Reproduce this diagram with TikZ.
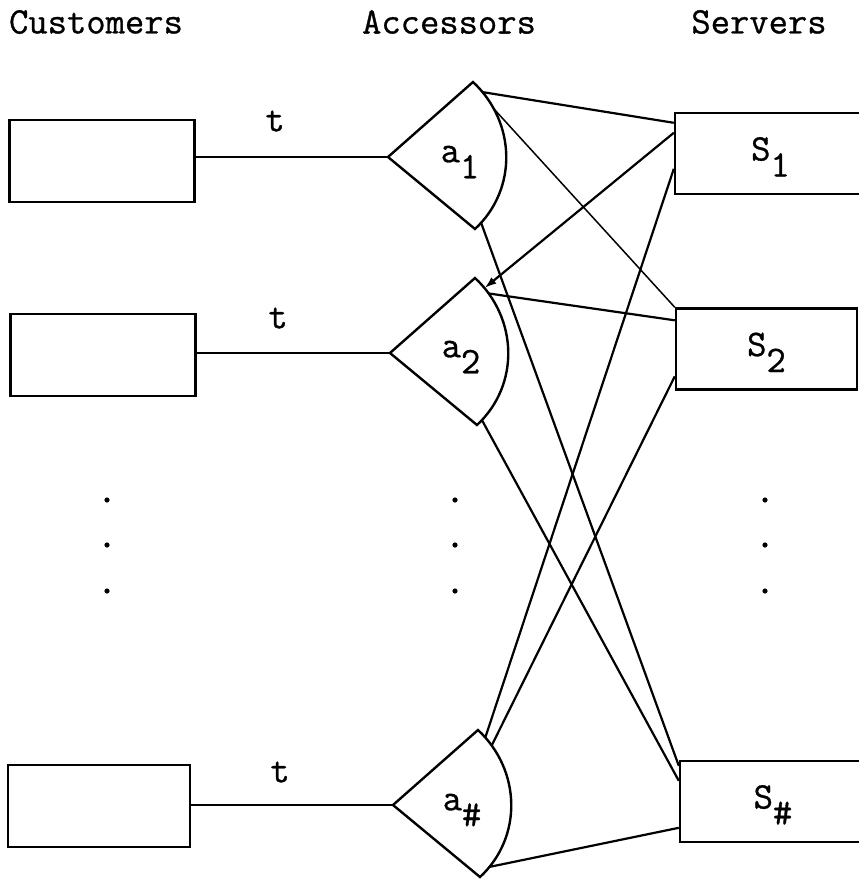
\documentclass[tikz,border=0pt]{standalone}
\usepackage{fontspec}
\usepackage{tikz}
\usetikzlibrary{arrows.meta,positioning}

% typewriter face, struck a little heavier
\newfontfamily\typer{Latin Modern Mono}[FakeBold=0.8]
% typed subscript: same size, dropped half a line
\newcommand{\lowsub}[1]{\raisebox{-16pt}{#1}}

\begin{document}
\begin{tikzpicture}[x=1pt,y=-1pt,
  font=\fontsize{37.5}{40}\typer,
  cust/.style={draw,line width=2.4pt,minimum width=185pt,minimum height=82pt,inner sep=0pt},
  serv/.style={draw,line width=2.4pt,minimum height=81pt,inner sep=0pt,text height=30pt,text depth=16pt},
  acc/.style={line width=2.4pt,line join=miter},
  feed/.style={line width=2.2pt},
  link/.style={line width=2.2pt},
  fine/.style={line width=1.5pt}
]
  \useasboundingbox (0,0) rectangle (859,879);

  \node (hcust) at (96,22)  {Customers};
  \node (hacc)  at (449,22) {Accessors};
  \node (hserv) at (759,22) {Servers};

  % customers
  \node[cust] (c1) at (102,161) {};
  \node[cust] (c2) at (103,355) {};
  \node[cust,minimum width=182pt] (c3) at (99,806) {};

  % accessors
  \coordinate (a1-tip) at (388,157);
  \draw[acc] (a1-tip) -- (473,82) .. controls (516,122) and (518,189) ..
    coordinate[pos=0.08] (a1-t) coordinate[pos=0.2] (a1-m) coordinate[pos=0.95] (a1-b)
    (475,229) -- cycle;
  \node (a1) at (460,162) {a\lowsub{1}};

  \coordinate (a2-tip) at (390,353);
  \draw[acc] (a2-tip) -- (475,278) .. controls (518,318) and (520,385) ..
    coordinate[pos=0.08] (a2-t) coordinate[pos=0.12] (a2-m) coordinate[pos=0.96] (a2-b)
    (477,425) -- cycle;
  \node (a2) at (461,357) {a\lowsub{2}};

  \coordinate (a3-tip) at (393,805);
  \draw[acc] (a3-tip) -- (478,730) .. controls (521,770) and (523,837) ..
    coordinate[pos=0.06] (a3-t) coordinate[pos=0.12] (a3-m) coordinate[pos=0.92] (a3-b)
    (480,877) -- cycle;
  \node (a3) at (462,810) {a\lowsub{\#}};

  % servers
  \node[serv,minimum width=191pt] (s1) at (770.5,153.5) {S\lowsub{1}};
  \node[serv,minimum width=181pt] (s2) at (766.5,349) {S\lowsub{2}};
  \node[serv,minimum width=186pt] (s3) at (773,801.5) {S\lowsub{\#}};

  % customer to accessor
  \draw[feed] (c1.east |- a1-tip) -- (a1-tip);
  \draw[feed] (c2.east |- a2-tip) -- (a2-tip);
  \draw[feed] (c3.east |- a3-tip) -- (a3-tip);
  \node (t1) at (275,121) {t};
  \node (t2) at (278,318) {t};
  \node (t3) at (280,772) {t};

  % accessor to server
  \draw[link] (a1-t) -- ([yshift=-11pt]s1.north west);
  \draw[fine] (a1-m) -- (s2.north west);
  \draw[link] (a1-b) -- ([yshift=-6pt]s3.north west);
  \draw[link,-{Latex[length=12pt,width=8pt]}] ([yshift=-21pt]s1.north west) -- (a2-t);
  \draw[link] (a2-m) -- ([yshift=-13pt]s2.north west);
  \draw[link] (a2-b) -- ([yshift=-21pt]s3.north west);
  \draw[link] (a3-t) -- ([yshift=-57pt]s1.north west);
  \draw[link] (a3-m) -- ([yshift=-69pt]s2.north west);
  \draw[link] (a3-b) -- ([yshift=-68pt]s3.north west);

  % elided rows
  \foreach \y in {500,545,591} {
    \fill (107,\y) circle (2.6);
    \fill (455,\y) circle (2.6);
    \fill (765,\y) circle (2.6);
  }
\end{tikzpicture}
\end{document}
